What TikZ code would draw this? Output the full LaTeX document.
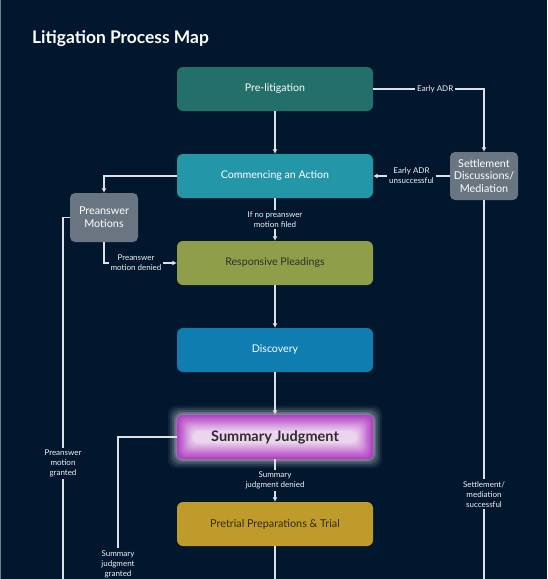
\documentclass[tikz,border=0pt]{standalone}
\usepackage{fontspec}
\setmainfont{Lato}
\usetikzlibrary{positioning,arrows.meta,backgrounds}

\definecolor{bgcol}{HTML}{01172E}
\definecolor{linecol}{HTML}{DDE1E6}
\definecolor{prelitcol}{HTML}{23706A}
\definecolor{commcol}{HTML}{2396A8}
\definecolor{respcol}{HTML}{8F9E48}
\definecolor{disccol}{HTML}{0F7DAF}
\definecolor{sjout}{HTML}{B23EC4}
\definecolor{sjin}{HTML}{ECD4EE}
\definecolor{trialcol}{HTML}{BE9B2A}
\definecolor{sidecol}{HTML}{6A7582}
\definecolor{glowcol}{HTML}{C8CED0}

\begin{document}
\begin{tikzpicture}[x=1pt, y=-1pt, node distance=87pt,
  stage/.style={rectangle, rounded corners=6pt, minimum width=196pt, minimum height=44pt, text=white, font=\fontsize{10.6}{12}\selectfont},
  side/.style={rectangle, rounded corners=5pt, fill=sidecol, minimum width=68pt, minimum height=48pt, text=white, align=center, inner sep=1pt, font=\fontsize{10.8}{12.8}\selectfont},
  lbl/.style={fill=bgcol, text=white!90!gray, align=center, inner sep=2pt, font=\fontsize{8}{10}\selectfont},
  line/.style={draw=linecol, line width=1.2pt},
  flow/.style={line, -{Latex[length=4.5pt, width=5pt]}}]
  \useasboundingbox (0,0) rectangle (547,579);
  \draw[white!45!bgcol, line width=1.2pt] (0.6,0) -- (0.6,579);
  \node[anchor=base west, inner sep=0pt, text=white, font=\fontsize{17.4}{20}\bfseries\selectfont] (title) at (32,43) {Litigation Process Map};

  % main stages
  \node[stage, fill=prelitcol] (prelit) at (275,89) {Pre-litigation};
  \node[stage, fill=commcol, below of=prelit] (comm) {Commencing an Action};
  \node[stage, fill=respcol, text=black!82, below of=comm] (resp) {Responsive Pleadings};
  \node[stage, fill=disccol, below of=resp] (disc) {Discovery};
  \node[stage, text=black!82, font=\fontsize{14.5}{16}\bfseries\selectfont, below of=disc] (sj) {Summary Judgment};
  \node[stage, fill=trialcol, text=black!72!trialcol, font=\fontsize{10.8}{12}\selectfont, below of=sj] (trial) {Pretrial Preparations \& Trial};

  % side boxes
  \node[side, right of=comm, node distance=209pt] (settle) {Settlement\\Discussions/\\Mediation};
  \node[side, minimum height=49pt] (preans) at (104,217.5) {Preanswer\\Motions};

  % free ends at the bottom edge
  \coordinate (pmend) at (63,579);
  \coordinate (sjend) at (118,579);
  \coordinate (setend) at (484,579);
  \coordinate (trialend) at (275,579);

  % glow and inner shading of summary judgment
  \begin{scope}[on background layer]
    \fill[bgcol] (0,0) rectangle (547,579);
    \foreach \g/\o in {9/0.08, 7/0.12, 5/0.16, 3/0.22, 1.5/0.3}
      \fill[glowcol, opacity=\o, rounded corners=9pt] ([shift={(-\g,-\g)}]sj.north west) rectangle ([shift={(\g,\g)}]sj.south east);
    \foreach \i [evaluate=\i as \p using int(\i*100/14)] in {0,...,14}
      \fill[sjin!\p!sjout, rounded corners=6pt] ([shift={(1.15*\i,1.15*\i)}]sj.north west) rectangle ([shift={(-1.15*\i,-1.15*\i)}]sj.south east);
  \end{scope}

  \draw[flow] (prelit) -- (comm);
  \draw[flow] (prelit.east) -| node[lbl, pos=0.28] {Early ADR} (settle.north);
  \draw[flow] (settle) -- node[lbl] {Early ADR\\unsuccessful} (comm);
  \draw[flow] (comm.west) -| (preans.north);
  \draw[flow] (comm) -- node[lbl] {If no preanswer\\motion filed} (resp);
  \draw[flow] (preans.south) |- node[lbl, pos=0.72] {Preanswer\\motion denied} (resp.west);
  \draw[line] (preans.west) -| node[lbl, pos=0.84] {Preanswer\\motion\\granted} (pmend);
  \draw[flow] (resp) -- (disc);
  \draw[flow] (disc) -- (sj);
  \draw[line] (sj.west) -| node[lbl, pos=0.947] {Summary\\judgment\\granted} (sjend);
  \draw[flow] (sj) -- node[lbl] {Summary\\judgment denied} (trial);
  \draw[line] (settle.south) -- node[lbl, pos=0.776] {Settlement/\\mediation\\successful} (setend);
  \draw[line] (trial) -- (trialend);
\end{tikzpicture}
\end{document}
